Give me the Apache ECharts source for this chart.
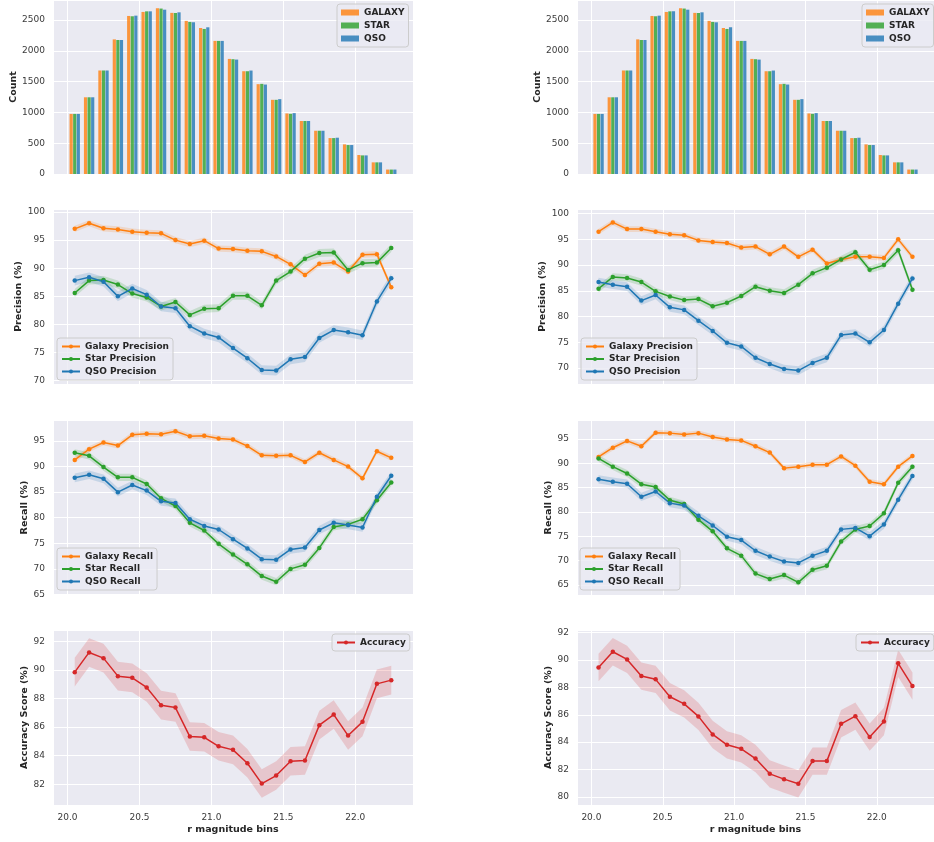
<!DOCTYPE html>
<html>
<head>
<meta charset="utf-8">
<script src="https://cdn.jsdelivr.net/npm/echarts@6/dist/echarts.min.js"></script>
<style>
  html, body { margin: 0; padding: 0; background: #ffffff; }
  #chart { width: 934px; height: 842px; }
</style>
</head>
<body>
<div id="chart"></div>
<script>
// r-band magnitude bin centres
const bins = [20.05, 20.15, 20.25, 20.35, 20.45, 20.55, 20.65, 20.75, 20.85, 20.95, 21.05,
  21.15, 21.25, 21.35, 21.45, 21.55, 21.65, 21.75, 21.85, 21.95, 22.05, 22.15, 22.25];

// objects per bin and class
const countGalaxy = [975, 1245, 1680, 2185, 2565, 2630, 2690, 2615, 2485, 2370, 2160, 1868, 1668, 1458, 1204, 983, 860, 702, 583, 481, 308, 189, 72];
const countStar   = [975, 1245, 1680, 2175, 2560, 2640, 2685, 2615, 2468, 2354, 2160, 1863, 1668, 1463, 1204, 977, 860, 702, 583, 470, 302, 189, 72];
const countQso    = [975, 1245, 1680, 2175, 2570, 2640, 2667, 2624, 2462, 2381, 2160, 1857, 1679, 1452, 1215, 988, 860, 702, 589, 470, 302, 189, 72];

// model A (left column)
const precGalaxyA = [97.0, 98.0, 97.1, 96.9, 96.5, 96.3, 96.2, 95.0, 94.3, 94.9, 93.5, 93.4, 93.1, 93.0, 92.1, 90.7, 88.8, 90.8, 91.0, 89.4, 92.4, 92.5, 86.6];
const precStarA   = [85.6, 87.8, 87.9, 87.1, 85.5, 84.8, 83.2, 84.0, 81.7, 82.8, 82.9, 85.1, 85.1, 83.4, 87.8, 89.4, 91.7, 92.7, 92.8, 89.7, 90.9, 91.0, 93.6];
const precQsoA    = [87.8, 88.4, 87.6, 85.0, 86.4, 85.3, 83.2, 82.9, 79.7, 78.4, 77.7, 75.8, 74.0, 71.9, 71.8, 73.8, 74.2, 77.6, 79.0, 78.6, 78.1, 84.1, 88.2];
const recGalaxyA  = [91.3, 93.4, 94.7, 94.1, 96.2, 96.4, 96.3, 96.9, 95.9, 96.0, 95.5, 95.3, 94.0, 92.2, 92.1, 92.2, 90.9, 92.7, 91.3, 90.0, 87.7, 93.0, 91.7];
const recStarA    = [92.7, 92.1, 89.9, 87.9, 87.9, 86.6, 83.8, 82.3, 79.0, 77.5, 74.9, 72.8, 70.9, 68.6, 67.5, 70.0, 70.8, 74.1, 78.2, 78.7, 79.7, 83.4, 86.9];
const recQsoA     = [87.8, 88.4, 87.6, 85.0, 86.4, 85.3, 83.2, 82.9, 79.7, 78.4, 77.7, 75.8, 74.0, 71.9, 71.8, 73.8, 74.2, 77.6, 79.0, 78.6, 78.1, 84.1, 88.2];
const accA        = [89.85, 91.23, 90.83, 89.57, 89.45, 88.78, 87.54, 87.37, 85.34, 85.29, 84.66, 84.41, 83.47, 82.05, 82.61, 83.61, 83.66, 86.14, 86.88, 85.41, 86.37, 89.03, 89.29];

// model B (right column)
const precGalaxyB = [96.5, 98.3, 97.0, 97.0, 96.5, 96.0, 95.8, 94.8, 94.5, 94.3, 93.4, 93.6, 92.1, 93.6, 91.6, 93.0, 90.3, 91.1, 91.6, 91.6, 91.4, 95.0, 91.6];
const precStarB   = [85.4, 87.7, 87.5, 86.7, 84.9, 83.9, 83.2, 83.4, 82.0, 82.7, 84.0, 85.8, 85.0, 84.6, 86.2, 88.4, 89.5, 91.1, 92.5, 89.1, 90.0, 92.9, 85.2];
const precQsoB    = [86.7, 86.2, 85.8, 83.1, 84.2, 81.8, 81.3, 79.2, 77.2, 74.9, 74.2, 72.0, 70.8, 69.8, 69.5, 71.0, 72.0, 76.4, 76.7, 75.0, 77.4, 82.5, 87.4];
const recGalaxyB  = [91.3, 93.2, 94.6, 93.5, 96.3, 96.2, 95.9, 96.2, 95.4, 94.9, 94.7, 93.5, 92.2, 89.0, 89.3, 89.7, 89.7, 91.4, 89.5, 86.2, 85.7, 89.3, 91.5];
const recStarB    = [91.0, 89.3, 87.9, 85.7, 85.1, 82.4, 81.6, 78.4, 76.0, 72.5, 71.0, 67.3, 66.2, 67.0, 65.5, 68.1, 68.9, 73.9, 76.4, 77.1, 79.7, 86.0, 89.3];
const recQsoB     = [86.7, 86.2, 85.8, 83.1, 84.2, 81.8, 81.3, 79.2, 77.2, 74.9, 74.2, 72.0, 70.8, 69.8, 69.5, 71.0, 72.0, 76.4, 76.7, 75.0, 77.4, 82.5, 87.4];
const accB        = [89.46, 90.61, 90.05, 88.83, 88.59, 87.32, 86.80, 85.88, 84.56, 83.80, 83.51, 82.80, 81.68, 81.29, 80.95, 82.61, 82.61, 85.34, 85.90, 84.37, 85.51, 89.76, 88.10];

// half-width of the confidence band per metric (percentage points)
const ciGalaxy = 0.55, ciStar = 0.7, ciQso = 0.85, ciAcc = 1.0;

const C_GAL = '#ff7f0e', C_STAR = '#2ca02c', C_QSO = '#1f77b4', C_ACC = '#d62728';
const FONT = 'DejaVu Sans';
const INK = '#262626';

// panel geometry
const ROW_TOP = [-1, 209, 420, 630];
const ROW_H = 175;
const COL_LEFT = [53, 577];
const COL_W = [360, 361];
const X_MIN = 19.899, X_MAX = 22.401;

// y extents per column, per row
const Y_RANGE = [
  [[0, 2824], [69.42, 100.53], [64.9, 99.1], [80.55, 92.8]],
  [[0, 2824], [66.9, 100.9], [62.9, 98.9], [79.4, 92.2]]
];
const Y_NAMES = ['Count', 'Precision (%)', 'Recall (%)', 'Accuracy Score (%)'];
const Y_NAME_GAP = [[30, 28, 20, 23.5], [31, 28, 20, 22.5]];

const grids = [], xAxes = [], yAxes = [], series = [], legends = [];

function pairs(ys) { return bins.map((x, i) => [x, ys[i]]); }

for (let c = 0; c < 2; c++) {
  for (let r = 0; r < 4; r++) {
    const gi = c * 4 + r;
    grids.push({
      left: COL_LEFT[c], top: ROW_TOP[r], width: COL_W[c], height: ROW_H,
      show: true, backgroundColor: '#eaeaf2', borderWidth: 0, containLabel: false
    });
    const bottom = r === 3;
    xAxes.push({
      type: 'value', gridIndex: gi, min: X_MIN, max: X_MAX, splitNumber: 6,
      axisLine: { show: false }, axisTick: { show: false },
      splitLine: { show: true, lineStyle: { color: '#ffffff', width: 1 } },
      axisLabel: {
        show: bottom, showMinLabel: false, showMaxLabel: false, margin: 8,
        fontFamily: FONT, fontSize: 9, color: '#3a3a3a',
        formatter: v => v.toFixed(1)
      },
      name: bottom ? 'r magnitude bins' : '', nameLocation: 'middle', nameGap: 20,
      nameTextStyle: { fontFamily: FONT, fontSize: 9.5, fontWeight: 'bold', color: INK }
    });
    yAxes.push({
      type: 'value', gridIndex: gi, min: Y_RANGE[c][r][0], max: Y_RANGE[c][r][1], splitNumber: 6,
      axisLine: { show: false }, axisTick: { show: false },
      splitLine: { show: true, lineStyle: { color: '#ffffff', width: 1 } },
      axisLabel: {
        showMinLabel: r === 0, showMaxLabel: false, margin: 8,
        fontFamily: FONT, fontSize: 9, color: '#3a3a3a',
        formatter: v => String(v)
      },
      name: Y_NAMES[r], nameLocation: 'middle', nameRotate: 90, nameGap: Y_NAME_GAP[c][r],
      nameTextStyle: { fontFamily: FONT, fontSize: 9.5, fontWeight: 'bold', color: INK }
    });
  }
}

function bars(gi, name, values, color) {
  series.push({
    type: 'bar', name: name, xAxisIndex: gi, yAxisIndex: gi,
    data: pairs(values), barWidth: 3.2, barGap: '12%',
    itemStyle: { color: color, opacity: 0.8 }
  });
}

// shaded confidence band drawn as one polygon through the axis scales
function band(gi, values, half, color) {
  series.push({
    type: 'custom', xAxisIndex: gi, yAxisIndex: gi, silent: true, z: 1,
    data: pairs(values),
    renderItem: function (params, api) {
      if (params.dataIndex !== 0) return;
      const upper = values.map((v, i) => api.coord([bins[i], v + half]));
      const lower = values.map((v, i) => api.coord([bins[i], v - half])).reverse();
      return {
        type: 'polygon',
        shape: { points: upper.concat(lower) },
        style: { fill: color, opacity: 0.18 }
      };
    }
  });
}

function line(gi, name, values, half, color) {
  band(gi, values, half, color);
  series.push({
    type: 'line', name: name, xAxisIndex: gi, yAxisIndex: gi, z: 3,
    data: pairs(values), symbol: 'circle', symbolSize: 4.5,
    lineStyle: { color: color, width: 1.5 }, itemStyle: { color: color }
  });
}

const cols = [
  { prec: [precGalaxyA, precStarA, precQsoA], rec: [recGalaxyA, recStarA, recQsoA], acc: accA },
  { prec: [precGalaxyB, precStarB, precQsoB], rec: [recGalaxyB, recStarB, recQsoB], acc: accB }
];

cols.forEach((col, c) => {
  const g = c * 4;
  bars(g, 'GALAXY', countGalaxy, C_GAL);
  bars(g, 'STAR', countStar, C_STAR);
  bars(g, 'QSO', countQso, C_QSO);
  line(g + 1, 'Galaxy Precision', col.prec[0], ciGalaxy, C_GAL);
  line(g + 1, 'Star Precision', col.prec[1], ciStar, C_STAR);
  line(g + 1, 'QSO Precision', col.prec[2], ciQso, C_QSO);
  line(g + 2, 'Galaxy Recall', col.rec[0], ciGalaxy, C_GAL);
  line(g + 2, 'Star Recall', col.rec[1], ciStar, C_STAR);
  line(g + 2, 'QSO Recall', col.rec[2], ciQso, C_QSO);
  line(g + 3, 'Accuracy', col.acc, ciAcc, C_ACC);
});

function legend(left, top, names, barIcon) {
  const l = {
    left: left, top: top, orient: 'vertical', data: names,
    backgroundColor: 'rgba(234,234,242,0.8)', borderColor: '#cccccc', borderWidth: 1, borderRadius: 3,
    padding: [4, 4, 4, 4], itemGap: barIcon ? 4 : 3.5, itemWidth: 18, itemHeight: barIcon ? 6 : 5,
    textStyle: { fontFamily: FONT, fontSize: 9, fontWeight: 'bold', color: INK },
    selectedMode: false
  };
  if (barIcon) l.icon = 'rect';
  legends.push(l);
}

legend(337, 4, ['GALAXY', 'STAR', 'QSO'], true);
legend(862, 4, ['GALAXY', 'STAR', 'QSO'], true);
legend(57, 338, ['Galaxy Precision', 'Star Precision', 'QSO Precision'], false);
legend(581, 338, ['Galaxy Precision', 'Star Precision', 'QSO Precision'], false);
legend(57, 548, ['Galaxy Recall', 'Star Recall', 'QSO Recall'], false);
legend(580, 548, ['Galaxy Recall', 'Star Recall', 'QSO Recall'], false);
legend(332, 634, ['Accuracy'], false);
legend(856, 634, ['Accuracy'], false);

const chart = echarts.init(document.getElementById('chart'), null, { renderer: 'canvas' });
chart.setOption({
  animation: false,
  grid: grids, xAxis: xAxes, yAxis: yAxes, legend: legends, series: series
});
</script>
</body>
</html>
